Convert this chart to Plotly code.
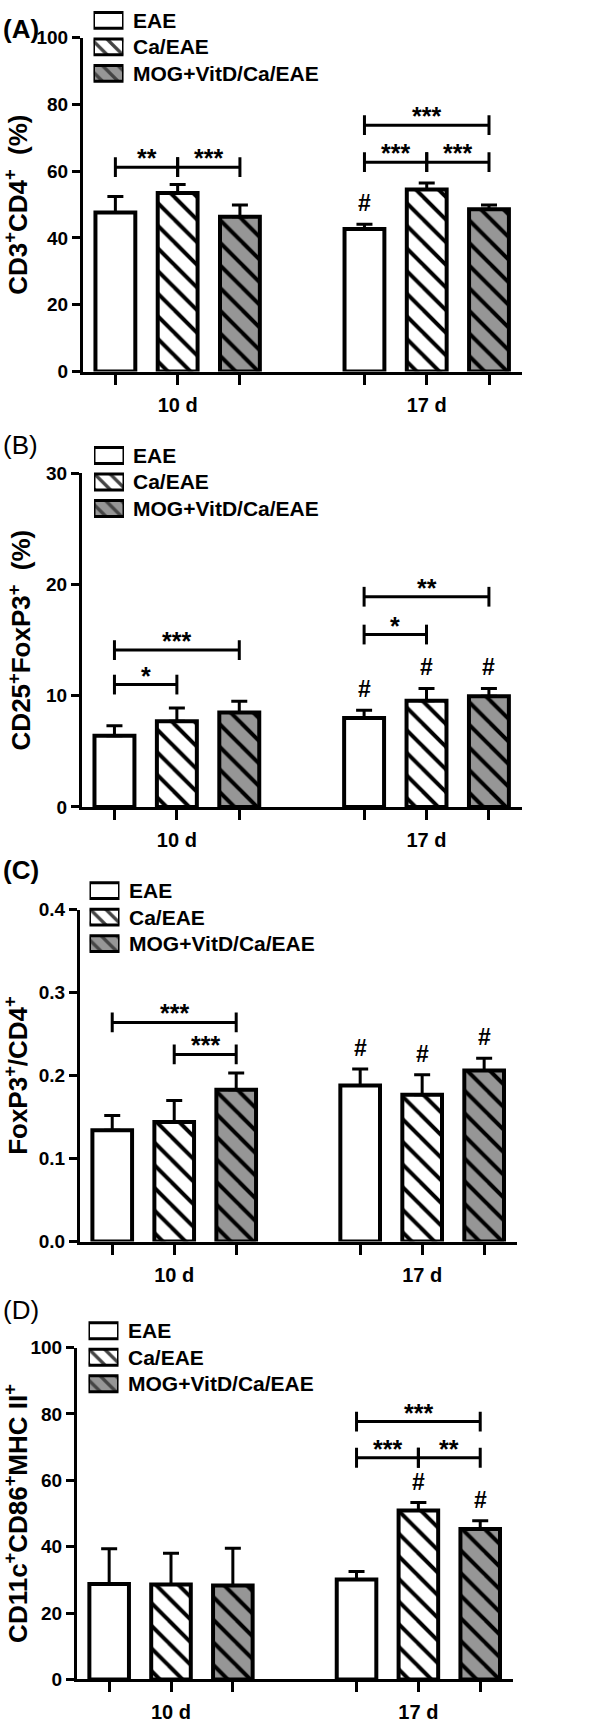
import plotly.graph_objects as go

W, H = 602, 1729

# ---------------- data ----------------
days = ["10 d", "17 d"]
groups = ["EAE", "Ca/EAE", "MOG+VitD/Ca/EAE"]
panel_letters = ["(A)", "(B)", "(C)", "(D)"]
y_titles = [
    "CD3<sup>+</sup>CD4<sup>+</sup>&nbsp; (%)",
    "CD25<sup>+</sup>FoxP3<sup>+</sup>&nbsp; (%)",
    "FoxP3<sup>+</sup>/CD4<sup>+</sup>",
    "CD11c<sup>+</sup>CD86<sup>+</sup>MHC II<sup>+</sup>",
]

# Panel A: CD3+CD4+ (%)
a_eae = [47.6, 42.7]
a_ca = [53.5, 54.5]
a_mog = [46.4, 48.6]
a_eae_err = [4.8, 1.4]
a_ca_err = [2.5, 2.0]
a_mog_err = [3.5, 1.3]

# Panel B: CD25+FoxP3+ (%)
b_eae = [6.4, 8.0]
b_ca = [7.7, 9.55]
b_mog = [8.5, 9.95]
b_eae_err = [0.9, 0.7]
b_ca_err = [1.2, 1.1]
b_mog_err = [1.0, 0.7]

# Panel C: FoxP3+/CD4+
c_eae = [0.134, 0.188]
c_ca = [0.144, 0.177]
c_mog = [0.183, 0.206]
c_eae_err = [0.018, 0.020]
c_ca_err = [0.026, 0.024]
c_mog_err = [0.020, 0.015]

# Panel D: CD11c+CD86+MHC II+
d_eae = [28.8, 30.1]
d_ca = [28.6, 50.9]
d_mog = [28.3, 45.3]
d_eae_err = [10.6, 2.4]
d_ca_err = [9.4, 2.4]
d_mog_err = [11.2, 2.5]

y_max = [100, 30, 0.4, 100]
y_dtick = [20, 10, 0.1, 20]

# significance brackets: (day index, group from, group to, level, label)
a_sig = [(0, 0, 1, 61.2, "**"), (0, 1, 2, 61.2, "***"),
         (1, 0, 1, 62.7, "***"), (1, 1, 2, 62.7, "***"), (1, 0, 2, 73.8, "***")]
b_sig = [(0, 0, 1, 11.0, "*"), (0, 0, 2, 14.1, "***"),
         (1, 0, 1, 15.5, "*"), (1, 0, 2, 18.9, "**")]
c_sig = [(0, 0, 2, 0.264, "***"), (0, 1, 2, 0.2255, "***")]
d_sig = [(1, 0, 1, 66.8, "***"), (1, 1, 2, 66.8, "**"), (1, 0, 2, 77.7, "***")]

# '#' marks: (day index, group index)
a_hash = [(1, 0)]
b_hash = [(1, 0), (1, 1), (1, 2)]
c_hash = [(1, 0), (1, 1), (1, 2)]
d_hash = [(1, 1), (1, 2)]

means = [[a_eae, a_ca, a_mog], [b_eae, b_ca, b_mog], [c_eae, c_ca, c_mog], [d_eae, d_ca, d_mog]]
errs = [[a_eae_err, a_ca_err, a_mog_err], [b_eae_err, b_ca_err, b_mog_err],
        [c_eae_err, c_ca_err, c_mog_err], [d_eae_err, d_ca_err, d_mog_err]]
sigs = [a_sig, b_sig, c_sig, d_sig]
hashes = [a_hash, b_hash, c_hash, d_hash]

# ---------------- layout geometry (pixels) ----------------
plot_y_px = [(28, 366), (469, 806.7), (910.7, 1246.7), (1354, 1690)]
plot_x_px = [(83, 522), (82, 522), (80, 517), (77, 513)]
legend_first_center = [10.5, 451, 891.5, 1337]
legend_box_x = [(93.5, 123.5), (94, 124), (89.5, 119.5), (88.5, 118.5)]
letter_center_y = [19, 440, 871, 1316]
letter_bold = [True, False, True, False]
LEG_PITCH = 26.8

FONT = "Liberation Sans, Arial, sans-serif"
GRAY = "#969696"
fills = ["white", "white", GRAY]
shapes_pat = ["", "\\", "\\"]
GROUP_STEP = 4  # positions: day*4 + group


def ydom(top, bot):
    return [max(0.0, 1 - bot / H), min(1.0, 1 - top / H)]


def xdom(l, r):
    return [l / W, r / W]


fig = go.Figure()
layout = dict(width=W, height=H, margin=dict(l=0, r=0, t=0, b=0),
              paper_bgcolor="white", plot_bgcolor="white", showlegend=False,
              font=dict(family=FONT, color="black"))
shapes = []
annotations = []

# labelled (major) ticks under the middle bar of each day, plain ticks under the others
major_vals = [d * GROUP_STEP + 1 for d in range(len(days))]
minor_vals = [d * GROUP_STEP + g for d in range(len(days)) for g in (0, 2)]

for p in range(4):
    xn = "x" if p == 0 else f"x{p + 1}"
    yn = "y" if p == 0 else f"y{p + 1}"
    xk = "xaxis" if p == 0 else f"xaxis{p + 1}"
    yk = "yaxis" if p == 0 else f"yaxis{p + 1}"
    top, bot = plot_y_px[p]
    px_per_unit = (bot - top) / y_max[p]

    for g in range(3):
        marker = dict(color=fills[g], line=dict(color="black", width=4))
        if shapes_pat[g]:
            marker["pattern"] = dict(shape=shapes_pat[g], fgcolor="#000000", fgopacity=1,
                                     bgcolor=fills[g], size=16, solidity=0.25)
        fig.add_trace(go.Bar(
            x=[d * GROUP_STEP + g for d in range(len(days))],
            y=means[p][g], width=0.64, name=groups[g], marker=marker,
            error_y=dict(type="data", array=errs[p][g], arrayminus=[0] * len(days),
                         symmetric=False, color="black", thickness=3, width=8),
            xaxis=xn, yaxis=yn, cliponaxis=False, hoverinfo="skip"))

    layout[xk] = dict(domain=xdom(*plot_x_px[p]), range=[-0.52, 6.53], anchor=yn,
                      tickmode="array", tickvals=major_vals, ticktext=days,
                      ticks="outside", ticklen=10, tickwidth=3, tickcolor="black",
                      minor=dict(tickmode="array", tickvals=minor_vals, ticks="outside",
                                 ticklen=10, tickwidth=3, tickcolor="black", showgrid=False),
                      showline=True, linewidth=3, linecolor="black", showgrid=False,
                      zeroline=False, tickfont=dict(size=20, family=FONT, weight="bold"),
                      ticklabelstandoff=3, fixedrange=True)
    layout[yk] = dict(domain=ydom(top, bot), range=[0, y_max[p]], anchor=xn,
                      dtick=y_dtick[p], tick0=0, ticks="outside", ticklen=8,
                      tickwidth=3, tickcolor="black", showline=True, linewidth=3,
                      linecolor="black", showgrid=False, zeroline=False,
                      tickformat=".1f" if y_max[p] < 1 else "d",
                      tickfont=dict(size=19, family=FONT, weight="bold"),
                      title=dict(text=y_titles[p], standoff=8,
                                 font=dict(size=26, family=FONT, weight="bold")),
                      fixedrange=True)

    # significance brackets
    half = 10 / px_per_unit
    for (d, g0, g1, lvl, lab) in sigs[p]:
        x0 = d * GROUP_STEP + g0
        x1 = d * GROUP_STEP + g1
        line = dict(color="black", width=3)
        shapes.append(dict(type="line", xref=xn, yref=yn, x0=x0, x1=x1, y0=lvl, y1=lvl, line=line))
        for xx in (x0, x1):
            shapes.append(dict(type="line", xref=xn, yref=yn, x0=xx, x1=xx,
                               y0=lvl - half, y1=lvl + half, line=line))
        annotations.append(dict(x=(x0 + x1) / 2, y=lvl, xref=xn, yref=yn, text=lab,
                                showarrow=False, yanchor="middle", yshift=9,
                                font=dict(size=25, family=FONT, weight="bold")))
    for (d, g) in hashes[p]:
        annotations.append(dict(x=d * GROUP_STEP + g, y=means[p][g][d] + errs[p][g][d],
                                xref=xn, yref=yn, text="#", showarrow=False,
                                yanchor="middle", yshift=21,
                                font=dict(size=23, family=FONT, weight="bold")))

    # legend swatches drawn as small bars on an auxiliary axis
    lx = f"x{p + 5}"
    ly = f"y{p + 5}"
    c0 = legend_first_center[p]
    dtop = max(0.0, c0 - LEG_PITCH / 2)
    rtop = -(c0 - dtop) / LEG_PITCH
    dbot = c0 + 2.5 * LEG_PITCH
    fig.add_trace(go.Bar(
        y=[0, 1, 2], x=[1, 1, 1], base=0, orientation="h", width=0.6,
        marker=dict(color=fills, line=dict(color="black", width=3),
                    pattern=dict(shape=shapes_pat, fgcolor="#000000", fgopacity=1,
                                 bgcolor=fills, size=11, solidity=0.3)),
        xaxis=lx, yaxis=ly, cliponaxis=False, hoverinfo="skip"))
    layout[f"xaxis{p + 5}"] = dict(domain=xdom(*legend_box_x[p]), range=[0, 1], anchor=ly,
                                   visible=False, fixedrange=True)
    layout[f"yaxis{p + 5}"] = dict(domain=ydom(dtop, dbot), range=[2.5, rtop], anchor=lx,
                                   visible=False, fixedrange=True)
    for i, gname in enumerate(groups):
        annotations.append(dict(x=1, y=i, xref=lx, yref=ly, text=gname, showarrow=False,
                                xanchor="left", yanchor="middle", xshift=7,
                                font=dict(size=21, family=FONT, weight="bold")))

    annotations.append(dict(x=1 / W, y=1 - letter_center_y[p] / H, xref="paper", yref="paper",
                            text=panel_letters[p], showarrow=False, xanchor="left",
                            yanchor="middle",
                            font=dict(size=26, family=FONT,
                                      weight="bold" if letter_bold[p] else "normal")))

layout["shapes"] = shapes
layout["annotations"] = annotations
fig.update_layout(**layout)
fig.write_html("out.html", config={"displayModeBar": False},
               post_script="document.body.style.margin='0px';")
